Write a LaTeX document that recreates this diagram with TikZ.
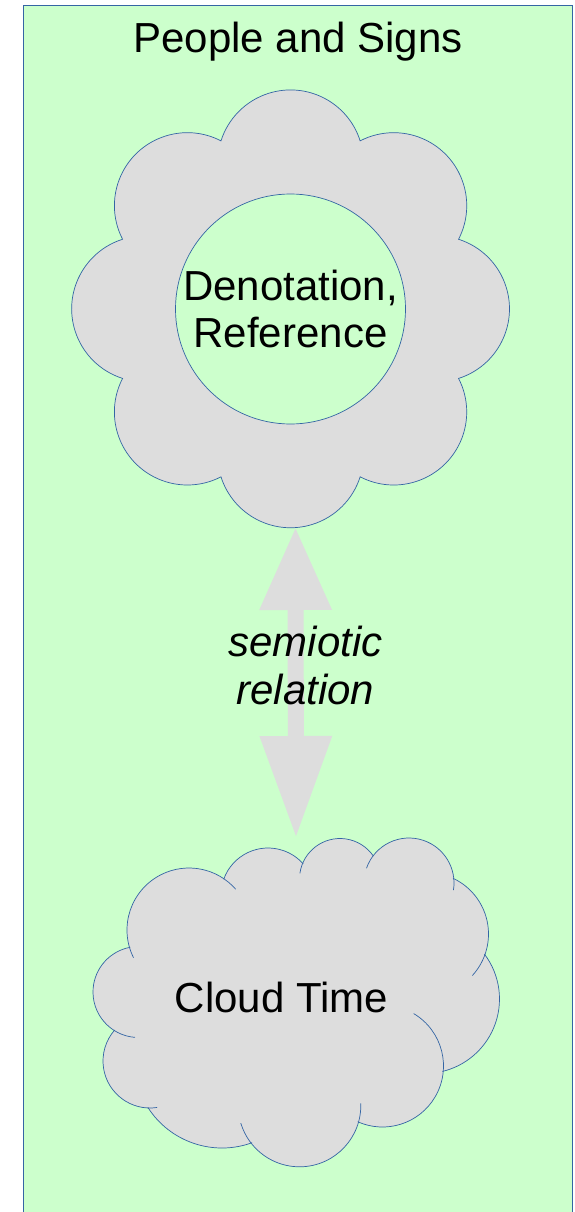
\documentclass[tikz,border=0pt]{standalone}
\usepackage{fontspec}
\setmainfont{Liberation Sans}
\usepackage{tikz}
\usetikzlibrary{arrows.meta,calc}
\definecolor{signgreen}{HTML}{CCFFCC}
\definecolor{cloudgray}{HTML}{DDDDDD}
\definecolor{lineblue}{HTML}{3465A4}
\tikzset{
FRAME/.style={draw=lineblue,line width=0.8pt,fill=signgreen},
SHAPE/.style={draw=lineblue,line width=0.7pt,fill=cloudgray,line join=miter},
LOBE/.style={draw=lineblue,line width=0.7pt,line cap=butt},
HOLE/.style={circle,draw=lineblue,line width=0.7pt,fill=signgreen,minimum size=230pt},
LABEL/.style={font=\fontsize{42}{47}\selectfont,inner sep=0pt,align=center},
ITLABEL/.style={LABEL,font=\fontsize{42}{48}\selectfont\itshape},
RELATION/.style={draw=cloudgray,line width=16pt,arrows={Triangle[width=68pt,length=83pt]-Triangle[width=68pt,length=102pt]}},
}
\begin{document}
\begin{tikzpicture}[x=1pt,y=1pt]
	\useasboundingbox (0,0) rectangle (575,-1212);
	\clip (0,0) rectangle (575,-1212);
	\path[FRAME] (23,-5) rectangle (572,-1240);
	\node[LABEL,anchor=base] (title) at (298,-53) {People and Signs};
	%Flower
	\path[SHAPE] ($(290.5,-309)+(67.5:182)$)
		foreach \k in {0,...,7} {arc[start angle={17.6+45*\k},end angle={162.4+45*\k},radius=73]} -- cycle;
	\node[HOLE,LABEL] (denot) at (290.5,-309) {Denotation,\\Reference};
	%Cloud
	\fill[cloudgray] (138.5,-992) -- (189,-930) -- (268,-895) -- (340,-879) -- (409,-883) -- (427,-934)
		-- (425,-999) -- (382.5,-1066) -- (299.5,-1105.5) -- (222,-1060) -- (150,-1061) -- cycle;
	\fill[cloudgray] (138.5,-992) circle[radius=45.5] (189,-930) circle[radius=62]
		(268,-895) circle[radius=47] (340,-879) circle[radius=40.5] (409,-883) circle[radius=45]
		(427,-934) circle[radius=61.5] (425,-999) circle[radius=74.5] (382.5,-1066) circle[radius=61]
		(299.5,-1105.5) circle[radius=61.3] (222,-1060) circle[radius=88] (150,-1061) circle[radius=47];
	\path[LOBE] (138.5,-992) ++(265.6:45.5) arc[start angle=265.6,end angle=100.5,radius=45.5];
	\path[LOBE] (189,-930) ++(206.5:62) arc[start angle=206.5,end angle=41.2,radius=62];
	\path[LOBE] (268,-895) ++(160.5:47) arc[start angle=160.5,end angle=41.5,radius=47];
	\path[LOBE] (340,-879) ++(171.9:40.5) arc[start angle=171.9,end angle=34.5,radius=40.5];
	\path[LOBE] (409,-883) ++(160.8:45) arc[start angle=160.8,end angle=-9,radius=45];
	\path[LOBE] (427,-934) ++(65:61.5) arc[start angle=65,end angle=-42.5,radius=61.5];
	\path[LOBE] (425,-999) ++(37.2:74.5) arc[start angle=37.2,end angle=-76.5,radius=74.5];
	\path[LOBE] (382.5,-1066) ++(59.3:61) arc[start angle=59.3,end angle=-114,radius=61];
	\path[LOBE] (299.5,-1105.5) ++(2:61.3) arc[start angle=2,end angle=-163.3,radius=61.3];
	\path[LOBE] (222,-1060) ++(-70:88) arc[start angle=-70,end angle=-147.5,radius=88];
	\path[LOBE] (150,-1061) ++(278.7:47) arc[start angle=278.7,end angle=138.8,radius=47];
	\node[LABEL,anchor=base] (cloudtime) at (281.5,-1012) {Cloud Time};
	%Relation
	\coordinate (flowertip) at (295.5,-527);
	\coordinate (cloudtop) at (296,-838);
	\draw[RELATION] (flowertip) -- (cloudtop);
	\node[ITLABEL] (relation) at (305.5,-665.5) {semiotic\\relation};
\end{tikzpicture}
\end{document}
